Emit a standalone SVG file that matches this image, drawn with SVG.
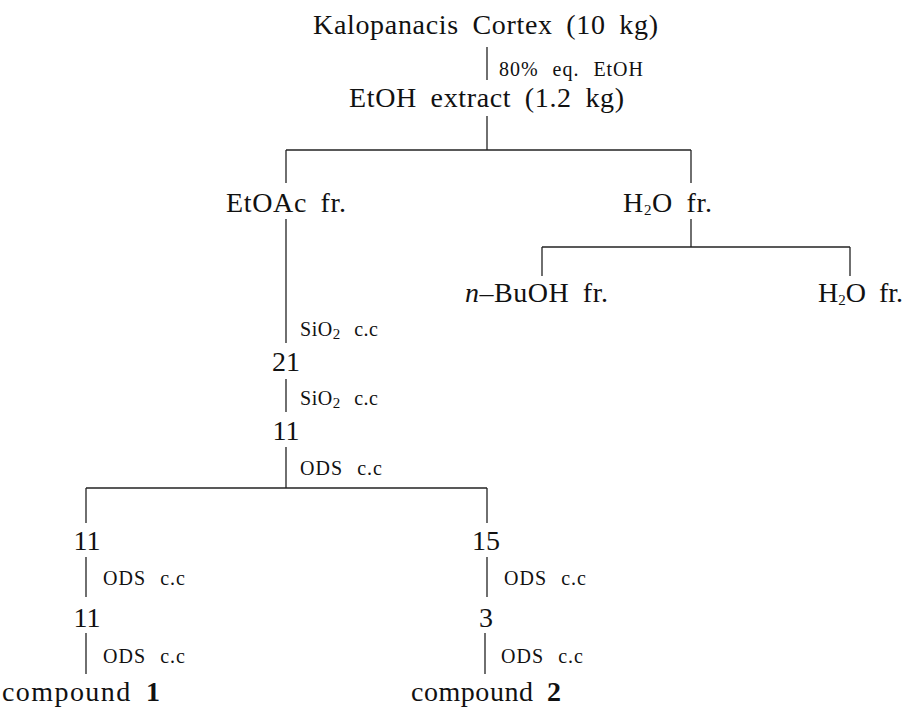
<svg xmlns="http://www.w3.org/2000/svg" width="908" height="708" viewBox="0 0 908 708">
<style>
  text { font-family: "Liberation Serif", "Times New Roman", serif; fill: #111; }
  .big { font-size: 28px; word-spacing: 6px; }
  .sm { font-size: 20px; word-spacing: 8px; }
  .sub { font-size: 15px; }
  .conn line { stroke: #222; stroke-width: 1.3; fill: none; }
</style>
<rect width="908" height="708" fill="#fff"/>
<g id="connectors" class="conn">
  <line x1="487" y1="47" x2="487" y2="80"/>
  <line x1="487" y1="116" x2="487" y2="150"/>
  <line x1="286" y1="150" x2="691" y2="150"/>
  <line x1="286" y1="150" x2="286" y2="183"/>
  <line x1="691" y1="150" x2="691" y2="183"/>
  <line x1="286" y1="219" x2="286" y2="343"/>
  <line x1="691" y1="219" x2="691" y2="247"/>
  <line x1="542" y1="247" x2="850" y2="247"/>
  <line x1="542" y1="247" x2="542" y2="276"/>
  <line x1="850" y1="247" x2="850" y2="276"/>
  <line x1="286" y1="379" x2="286" y2="412"/>
  <line x1="286" y1="447" x2="286" y2="488"/>
  <line x1="86" y1="488" x2="487" y2="488"/>
  <line x1="86" y1="488" x2="86" y2="523"/>
  <line x1="487" y1="488" x2="487" y2="523"/>
  <line x1="86" y1="557" x2="86" y2="597"/>
  <line x1="86" y1="633" x2="86" y2="674"/>
  <line x1="487" y1="557" x2="487" y2="597"/>
  <line x1="485" y1="633" x2="485" y2="674"/>
</g>
<g id="labels">
  <text class="sm" x="499" y="76" textLength="144" lengthAdjust="spacing">80% eq. EtOH</text>
  <text class="sm" x="300" y="336" textLength="78" lengthAdjust="spacing">SiO<tspan class="sub" dy="3">2</tspan><tspan dy="-3"> c.c</tspan></text>
  <text class="sm" x="300" y="405" textLength="78" lengthAdjust="spacing">SiO<tspan class="sub" dy="3">2</tspan><tspan dy="-3"> c.c</tspan></text>
  <text class="sm" x="300" y="475" textLength="82" lengthAdjust="spacing">ODS c.c</text>
  <text class="sm" x="103" y="585" textLength="82" lengthAdjust="spacing">ODS c.c</text>
  <text class="sm" x="103" y="663" textLength="82" lengthAdjust="spacing">ODS c.c</text>
  <text class="sm" x="504" y="585" textLength="82" lengthAdjust="spacing">ODS c.c</text>
  <text class="sm" x="501" y="663" textLength="82" lengthAdjust="spacing">ODS c.c</text>
</g>
<g id="n-cortex"><text class="big" x="313" y="34" textLength="345" lengthAdjust="spacing">Kalopanacis Cortex (10 kg)</text></g>
<g id="n-extract"><text class="big" x="349" y="107" textLength="275" lengthAdjust="spacing">EtOH extract (1.2 kg)</text></g>
<g id="n-etoac"><text class="big" x="226" y="212" textLength="120" lengthAdjust="spacing">EtOAc fr.</text></g>
<g id="n-h2o"><text class="big" x="623" y="212" textLength="89" lengthAdjust="spacing">H<tspan class="sub" dy="3">2</tspan><tspan dy="-3">O fr.</tspan></text></g>
<g id="n-buoh"><text class="big" x="465" y="302" textLength="143" lengthAdjust="spacing"><tspan font-style="italic">n</tspan>–BuOH fr.</text></g>
<g id="n-h2o2"><text class="big" x="818" y="302" textLength="85" lengthAdjust="spacing">H<tspan class="sub" dy="3">2</tspan><tspan dy="-3">O fr.</tspan></text></g>
<g id="n-21"><text class="big" x="286" y="371" text-anchor="middle">21</text></g>
<g id="n-11a"><text class="big" x="286" y="440" text-anchor="middle">11</text></g>
<g id="n-11b"><text class="big" x="87" y="550" text-anchor="middle">11</text></g>
<g id="n-11c"><text class="big" x="87" y="627" text-anchor="middle">11</text></g>
<g id="n-15"><text class="big" x="486" y="550" text-anchor="middle">15</text></g>
<g id="n-3"><text class="big" x="486" y="627" text-anchor="middle">3</text></g>
<g id="n-c1"><text class="big" x="2" y="701" textLength="158" lengthAdjust="spacing">compound <tspan font-weight="bold">1</tspan></text></g>
<g id="n-c2"><text class="big" x="411" y="701" textLength="150" lengthAdjust="spacing">compound <tspan font-weight="bold">2</tspan></text></g>
</svg>
